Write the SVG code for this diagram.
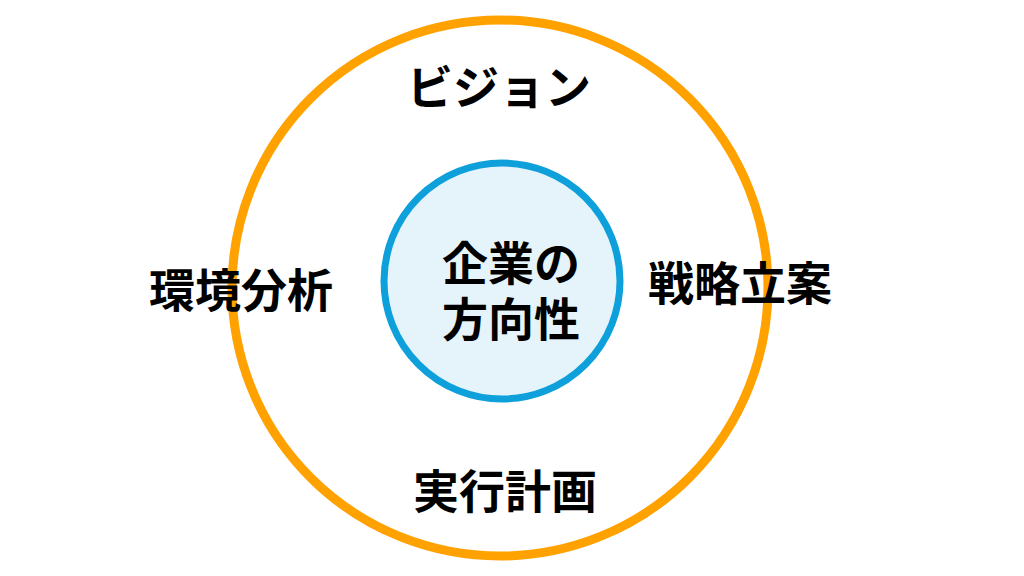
<svg xmlns="http://www.w3.org/2000/svg" width="1024" height="576" viewBox="0 0 1024 576">
<style>
.lbl{font-family:"Noto Sans CJK JP","Noto Sans CJK SC",sans-serif;font-weight:700;font-size:46px;fill:#000;text-anchor:middle;dominant-baseline:central}
</style>
<rect width="1024" height="576" fill="#fff"/>
<g id="outer">
<circle cx="500" cy="288" r="268" fill="none" stroke="#FFA200" stroke-width="9"/>
</g>
<g id="center">
<circle cx="502" cy="281" r="118" fill="#E5F3FB" stroke="#0DA0DB" stroke-width="7"/>
<text class="lbl" x="511" y="260"><tspan x="511" y="260">企業の</tspan><tspan x="511" y="316">方向性</tspan></text>
</g>
<g id="vision"><text class="lbl" x="499" y="84">ビジョン</text></g>
<g id="env"><text class="lbl" x="241" y="287">環境分析</text></g>
<g id="strategy"><text class="lbl" x="740" y="280">戦略立案</text></g>
<g id="plan"><text class="lbl" x="505" y="488">実行計画</text></g>
<g id="connectors"></g>
</svg>
